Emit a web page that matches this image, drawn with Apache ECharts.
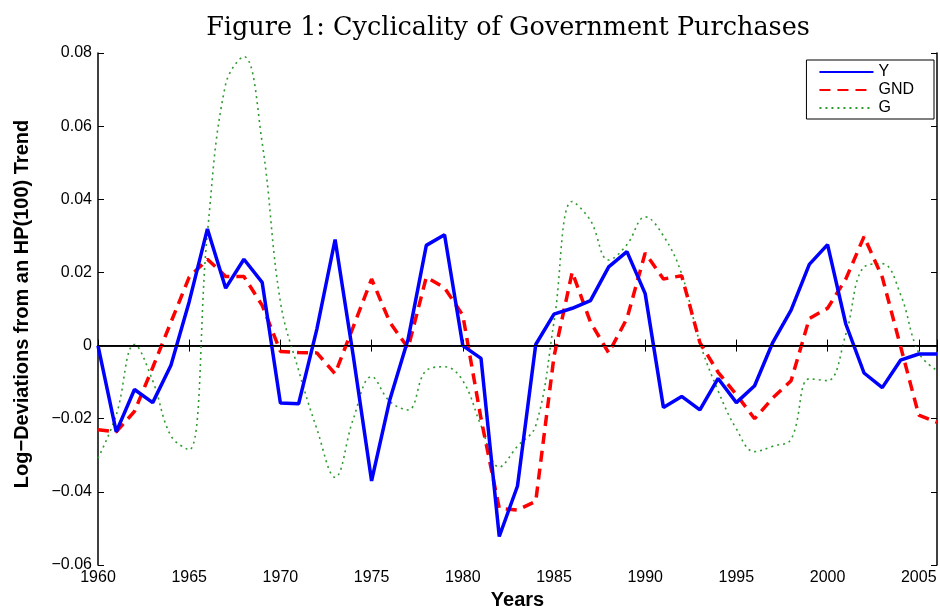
<!DOCTYPE html>
<html>
<head>
<meta charset="utf-8">
<title>Cyclicality of Government Purchases</title>
<script src="https://cdn.jsdelivr.net/npm/echarts@6/dist/echarts.min.js"></script>
<style>
  html, body { margin: 0; padding: 0; background: #fff; }
  #main { width: 940px; height: 606px; }
</style>
</head>
<body>
<div id="main"></div>
<script>
// years 1960..2006
var years = [];
for (var yr = 1960; yr <= 2006; yr++) years.push(yr);

// log-deviations
var outputY = [0.000, -0.0236, -0.0120, -0.0156, -0.0054, 0.0120, 0.0319, 0.0157, 0.0236, 0.0173,
  -0.0157, -0.0159, 0.0045, 0.0290, -0.0030, -0.0370, -0.0148, 0.0017, 0.0274, 0.0303,
  0.0000, -0.0035, -0.0522, -0.0384, 0.0003, 0.0086, 0.0102, 0.0123, 0.0215, 0.0257,
  0.0142, -0.0169, -0.0139, -0.0176, -0.0090, -0.0156, -0.0110, 0.0009, 0.0097, 0.0222,
  0.0276, 0.0059, -0.0075, -0.0115, -0.0040, -0.0023, -0.0023];

var gnd = [-0.0230, -0.0236, -0.0180, -0.0060, 0.0064, 0.0187, 0.0236, 0.0189, 0.0189, 0.0110,
  -0.0016, -0.0019, -0.0020, -0.0077, 0.0052, 0.0182, 0.0064, -0.0007, 0.0187, 0.0158,
  0.0083, -0.0200, -0.0445, -0.0450, -0.0426, -0.0030, 0.0201, 0.0064, -0.0020, 0.0074,
  0.0253, 0.0182, 0.0191, 0.0008, -0.0073, -0.0134, -0.0200, -0.0143, -0.0096, 0.0074,
  0.0102, 0.0182, 0.0298, 0.0187, -0.0002, -0.0190, -0.0210];

var gov = [-0.0308, -0.0190, 0.0003, -0.0096, -0.0247, -0.0285, 0.0309, 0.0715, 0.0790, 0.0555,
  0.0120, -0.0068, -0.0228, -0.0360, -0.0200, -0.0085, -0.0153, -0.0176, -0.0068, -0.0058,
  -0.0096, -0.0219, -0.0332, -0.0275, -0.0219, 0.0064, 0.0394, 0.0342, 0.0234, 0.0276,
  0.0352, 0.0300, 0.0196, 0.0008, -0.0124, -0.0228, -0.0290, -0.0275, -0.0256, -0.0091,
  -0.0096, 0.0031, 0.0215, 0.0224, 0.0140, -0.0020, -0.0068];

function pairs(vals) {
  return years.map(function (y, i) { return [y, vals[i]]; });
}

var sans = 'Liberation Sans, Arial, sans-serif';

function yLabel(v) {
  if (Math.abs(v) < 1e-9) return '0';
  var s = Math.abs(v).toFixed(2);
  return v < 0 ? '\u2212' + s : s;
}

var chart = echarts.init(document.getElementById('main'));

var option = {
  animation: false,
  backgroundColor: '#fff',
  title: {
    text: 'Figure 1: Cyclicality of Government Purchases',
    left: 503,
    textAlign: 'center',
    top: 10,
    textStyle: { fontFamily: 'DejaVu Serif, serif', fontSize: 25.5, fontWeight: 'normal', color: '#000' }
  },
  legend: {
    orient: 'vertical',
    right: 6,
    top: 60,
    itemWidth: 54,
    itemHeight: 12,
    itemGap: 2,
    padding: [4, 20, 3, 12],
    borderColor: '#000',
    borderWidth: 1,
    backgroundColor: '#fff',
    itemStyle: { opacity: 0 },
    textStyle: { fontFamily: sans, fontSize: 16, color: '#000' },
    data: ['Y', 'GND', 'G']
  },
  grid: { left: 98, right: 3, top: 53, bottom: 41, outerBoundsMode: 'none' },
  xAxis: [{
    type: 'value',
    min: 1960,
    max: 2006,
    interval: 5,
    name: 'Years',
    nameLocation: 'middle',
    nameGap: 23,
    nameTextStyle: { fontFamily: sans, fontSize: 20, fontWeight: 'bold', color: '#000' },
    axisLine: { lineStyle: { color: '#000', width: 1.5 } },
    axisTick: { inside: true, length: 6, lineStyle: { color: '#000' } },
    axisLabel: {
      margin: 5, fontFamily: sans, fontSize: 16, color: '#000',
      formatter: function (v) { return v % 5 === 0 ? String(v) : ''; }
    },
    splitLine: { show: false }
  }, {
    type: 'value',
    position: 'top',
    min: 1960,
    max: 2006,
    interval: 5,
    axisLine: { lineStyle: { color: '#000', width: 1.5 } },
    axisTick: { inside: true, length: 6, lineStyle: { color: '#000' } },
    axisLabel: { show: false },
    splitLine: { show: false }
  }],
  yAxis: [{
    type: 'value',
    min: -0.06,
    max: 0.08,
    interval: 0.02,
    name: 'Log\u2212Deviations from an HP(100) Trend',
    nameLocation: 'middle',
    nameGap: 66,
    nameTextStyle: { fontFamily: sans, fontSize: 20, fontWeight: 'bold', color: '#000', padding: [0, 0, 0, 10] },
    axisLine: { show: true, lineStyle: { color: '#000', width: 1.5 } },
    axisTick: { show: true, inside: true, length: 6, lineStyle: { color: '#000' } },
    axisLabel: { margin: 6, fontFamily: sans, fontSize: 16, color: '#000', formatter: yLabel },
    splitLine: { show: false }
  }, {
    type: 'value',
    position: 'right',
    min: -0.06,
    max: 0.08,
    interval: 0.02,
    axisLine: { show: true, lineStyle: { color: '#000', width: 1.5 } },
    axisTick: { show: true, inside: true, length: 6, lineStyle: { color: '#000' } },
    axisLabel: { show: false },
    splitLine: { show: false }
  }],
  series: [{
    name: 'G',
    type: 'line',
    data: pairs(gov),
    smooth: 0.4,
    symbol: 'none',
    z: 2,
    lineStyle: { color: '#2f9a2f', width: 1.6, type: [2, 4] },
    itemStyle: { color: '#2f9a2f' },
    markLine: {
      silent: true,
      symbol: 'none',
      label: { show: false },
      lineStyle: { color: '#000', width: 1, type: 'solid' },
      data: [{ yAxis: 0 }]
    }
  }, {
    name: 'GND',
    type: 'line',
    data: pairs(gnd),
    symbol: 'none',
    z: 3,
    lineStyle: { color: '#ff0000', width: 3.5, type: [11, 7] },
    itemStyle: { color: '#ff0000' }
  }, {
    name: 'Y',
    type: 'line',
    data: pairs(outputY),
    symbol: 'none',
    z: 4,
    lineStyle: { color: '#0000ff', width: 3.5 },
    itemStyle: { color: '#0000ff' }
  }]
};

chart.setOption(option);
</script>
</body>
</html>
